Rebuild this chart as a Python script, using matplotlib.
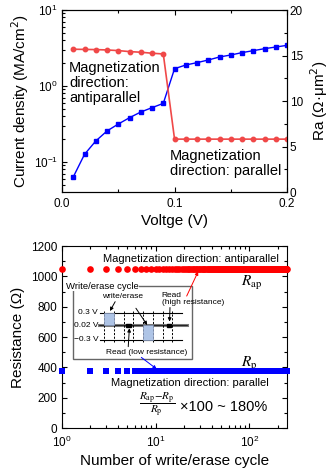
import matplotlib
matplotlib.use("Agg")
import matplotlib.pyplot as plt
import matplotlib.ticker as mticker
from matplotlib.patches import Rectangle
import numpy as np

plt.rcParams["font.family"] = ["Liberation Sans", "DejaVu Sans"]
plt.rcParams["xtick.direction"] = "in"
plt.rcParams["ytick.direction"] = "in"

# ── Top panel: I-V sweep of the junction ──────────────────────────────────
voltage = [0.01, 0.02, 0.03, 0.04, 0.05, 0.06, 0.07, 0.08, 0.09, 0.10,
           0.11, 0.12, 0.13, 0.14, 0.15, 0.16, 0.17, 0.18, 0.19, 0.20]
current_density = [0.0635, 0.126, 0.189, 0.256, 0.316, 0.383, 0.455, 0.519, 0.591, 1.69,
                   1.89, 2.03, 2.20, 2.41, 2.56, 2.75, 2.92, 3.10, 3.26, 3.43]
ra_product = [15.69, 15.67, 15.65, 15.61, 15.54, 15.43, 15.36, 15.25, 15.17, 5.81,
              5.81, 5.81, 5.81, 5.81, 5.81, 5.81, 5.81, 5.81, 5.81, 5.81]

# ── Bottom panel: resistance vs. write/erase cycle ────────────────────────
R_AP = 1050
R_P = 375
N_CYCLES = 250
cycles = np.arange(1, N_CYCLES + 1)
r_ap = np.full(cycles.size, R_AP)
r_p = np.full(cycles.size, R_P)

TICK_FS = 8.5
LABEL_FS = 11

fig = plt.figure(figsize=(3.34, 4.72), dpi=100)

# ---------------------------------------------------------------- top
ax = fig.add_axes([0.1856, 0.5932, 0.674, 0.3856])
ax.plot(voltage, current_density, color="#0000ff", marker="s", markersize=2.9,
        linewidth=1.0)
ax.set_yscale("log")
ax.set_ylim(0.0403, 10)
ax.set_xlim(0.0, 0.2)
ax.xaxis.set_major_locator(mticker.MultipleLocator(0.1))
ax.xaxis.set_minor_locator(mticker.MultipleLocator(0.05))
ax.xaxis.set_major_formatter(mticker.FormatStrFormatter("%.1f"))
ax.tick_params(which="both", top=True, labelsize=TICK_FS, width=0.8)
ax.tick_params(which="major", length=3.5, pad=3)
ax.tick_params(which="minor", length=2)
ax.tick_params(axis="x", which="major", pad=4.5)
ax.set_xlabel("Voltge (V)", fontsize=LABEL_FS, labelpad=3)
ax.set_ylabel("Current density (MA/cm$^2$)", fontsize=LABEL_FS, labelpad=2)

ax2 = ax.twinx()
ax2.plot(voltage, ra_product, color="#f04848", marker="o", markersize=3.2,
         linewidth=1.2)
ax2.set_ylim(0, 20)
ax2.yaxis.set_major_locator(mticker.MultipleLocator(5))
ax2.yaxis.set_minor_locator(mticker.MultipleLocator(2.5))
ax2.tick_params(which="both", labelsize=TICK_FS, width=0.8)
ax2.tick_params(which="major", length=3.5, pad=2)
ax2.tick_params(which="minor", length=2)
ax2.set_ylabel("Ra (Ω·μm$^2$)", fontsize=LABEL_FS, labelpad=4)

ax.text(0.031, 0.597, "Magnetization\ndirection:\nantiparallel", transform=ax.transAxes,
        fontsize=10.5, ha="left", va="center", linespacing=1.1)
ax.text(0.48, 0.158, "Magnetization\ndirection: parallel", transform=ax.transAxes,
        fontsize=10.5, ha="left", va="center", linespacing=1.1)

# ---------------------------------------------------------------- bottom
bx = fig.add_axes([0.1847, 0.0932, 0.6755, 0.3856])
bx.plot(cycles, r_ap, "o", color="#ff0000", markersize=4.8, markeredgewidth=0,
        clip_on=False, zorder=4)
bx.plot(cycles, r_p, "s", color="#0000ff", markersize=4.0, markeredgewidth=0,
        clip_on=False, zorder=4)
bx.set_xscale("log")
bx.set_xlim(1, 254)
bx.set_ylim(0, 1200)
bx.yaxis.set_major_locator(mticker.MultipleLocator(200))
bx.yaxis.set_minor_locator(mticker.MultipleLocator(100))
bx.tick_params(which="both", top=True, right=True, labelsize=TICK_FS, width=0.8)
bx.tick_params(which="major", length=3.5, pad=3)
bx.tick_params(which="minor", length=2)
bx.tick_params(axis="x", which="major", pad=5)
bx.set_xlabel("Number of write/erase cycle", fontsize=LABEL_FS, labelpad=3)
bx.set_ylabel("Resistance (Ω)", fontsize=LABEL_FS, labelpad=4)

T = bx.transAxes
bx.text(0.573, 0.927, "Magnetization direction: antiparallel", transform=T,
        fontsize=8, ha="center", va="center")
bx.text(0.569, 0.249, "Magnetization direction: parallel", transform=T,
        fontsize=8, ha="center", va="center")
bx.text(0.793, 0.798, r"$R_\mathrm{ap}$", transform=T, fontsize=11,
        ha="left", va="center", math_fontfamily="stix")
bx.text(0.793, 0.350, r"$R_\mathrm{p}$", transform=T, fontsize=11,
        ha="left", va="center", math_fontfamily="stix")
bx.text(0.421, 0.125, r"$\dfrac{R_\mathrm{ap}\!-\!R_\mathrm{p}}{R_\mathrm{p}}$", transform=T,
        fontsize=8, ha="center", va="center", math_fontfamily="stix")
bx.text(0.524, 0.117, "×100 ~ 180%", transform=T, fontsize=10.5,
        ha="left", va="center")

# write/erase pulse schematic
bx.add_patch(Rectangle((0.0488, 0.377), 0.527, 0.403, transform=T, fill=False,
                       edgecolor="#666666", linewidth=1.0, zorder=2))
bx.text(0.019, 0.780, "Write/erase cycle", transform=T, fontsize=6.8,
        ha="left", va="center", zorder=3,
        bbox=dict(facecolor="white", edgecolor="none", pad=0.5))

levels = [("0.3 V", 0.634), ("0.02 V", 0.564), ("\u22120.3 V", 0.484)]
for lab, y in levels:
    bx.text(0.162, y, lab, transform=T, fontsize=6, ha="right", va="center")
bx.plot([0.170, 0.535], [0.634, 0.634], color="k", lw=0.8, transform=T)
bx.plot([0.170, 0.535], [0.484, 0.484], color="k", lw=0.8, transform=T)
bx.plot([0.167, 0.555], [0.564, 0.564], color="#777777", lw=2.2, transform=T)
bx.plot([0.167, 0.555], [0.564, 0.564], color="k", lw=0.5, transform=T)

for x in [0.189, 0.233, 0.277, 0.317, 0.362, 0.406, 0.450, 0.490]:
    bx.plot([x, x], [0.47, 0.645], color="k", lw=0.7, ls=(0, (2.2, 1.6)),
            transform=T)

pulse_kw = dict(transform=T, facecolor="#aec4e6", edgecolor="#8899bb", lw=0.5,
                zorder=2.5)
bx.add_patch(Rectangle((0.189, 0.564), 0.044, 0.070, **pulse_kw))
bx.add_patch(Rectangle((0.362, 0.484), 0.044, 0.080, **pulse_kw))
bx.add_patch(Rectangle((0.285, 0.556), 0.021, 0.016, transform=T, color="k", zorder=3))
bx.add_patch(Rectangle((0.465, 0.556), 0.021, 0.016, transform=T, color="k", zorder=3))

bx.text(0.270, 0.721, "write/erase", transform=T, fontsize=6, ha="center", va="center")
bx.text(0.443, 0.710, "Read\n(high resistance)", transform=T, fontsize=6,
        ha="left", va="center", linespacing=1.0)
bx.text(0.375, 0.416, "Read (low resistance)", transform=T, fontsize=6,
        ha="center", va="center")


def arrow(tail, tip, color="k"):
    bx.annotate("", xy=tip, xytext=tail, xycoords=T, textcoords=T,
                arrowprops=dict(arrowstyle="-|>", color=color, lw=0.7,
                                mutation_scale=5, shrinkA=0, shrinkB=0),
                zorder=5)


arrow((0.237, 0.694), (0.214, 0.643))
arrow((0.329, 0.658), (0.379, 0.566))
arrow((0.480, 0.662), (0.478, 0.585))
arrow((0.295, 0.447), (0.300, 0.548))
arrow((0.554, 0.725), (0.605, 0.860), color="#ff0000")
arrow((0.353, 0.388), (0.421, 0.324), color="#0000ff")

fig.savefig("out.png", dpi=100)
